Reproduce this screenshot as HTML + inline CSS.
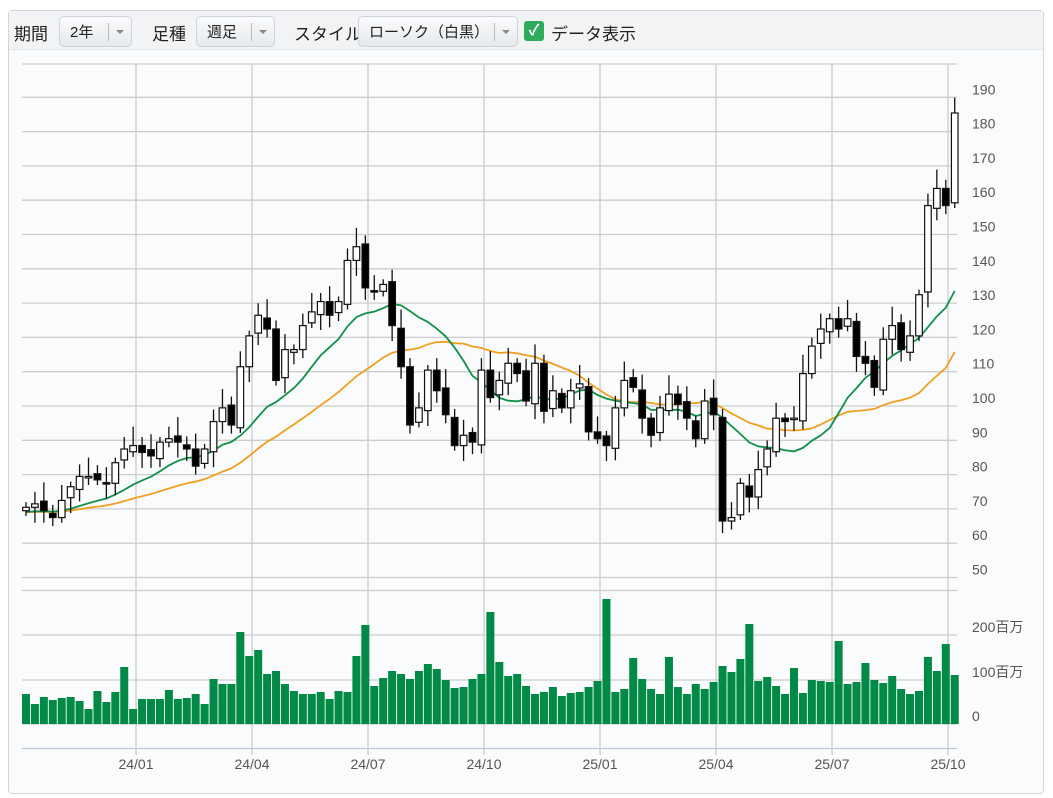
<!DOCTYPE html>
<html><head><meta charset="utf-8"><style>
body{margin:0;background:#fff;width:1053px;height:798px;overflow:hidden;font-family:"Liberation Sans","Noto Sans CJK JP",sans-serif}
.frame{position:absolute;left:8px;top:10px;width:1034px;height:782px;border:1px solid #d0d5dc;border-radius:4px;background:#fafbfc}
.bar{position:absolute;left:0;top:0;width:1034px;height:38px;background:#f1f3f5;border-bottom:1px solid #e3e6ea}
.t{position:absolute;top:9px;font-size:17px;color:#222}
.btn{position:absolute;top:5px;height:31px;border:1px solid #cfd3d8;border-radius:5px;background:linear-gradient(#fafbfc,#e6e9ec);font-size:15px;color:#222;line-height:31px;box-sizing:border-box;padding-left:10px}
.btn i{position:absolute;right:0;top:6px;width:22px;height:18px;border-left:1px solid #bbb}
.btn i:after{content:"";position:absolute;left:7px;top:7px;border:4px solid transparent;border-top:4px solid #888}
.chk{position:absolute;left:515px;top:10px;width:20px;height:20px;background:#2eaa5c;border-radius:3px;color:#fff;font-size:15px;text-align:center;line-height:20px;font-weight:bold}
</style></head><body>
<div class="frame"><div class="bar">
<span class="t" style="left:5px">期間</span>
<div class="btn" style="left:50px;width:73px">2年<i></i></div>
<span class="t" style="left:143px">足種</span>
<div class="btn" style="left:187px;width:79px">週足<i></i></div>
<span class="t" style="left:285px">スタイル</span>
<div class="btn" style="left:349px;width:160px">ローソク（白黒）<i></i></div>
<div class="chk">✓</div>
<span class="t" style="left:542px">データ表示</span>
</div></div>
<svg id="s" width="1053" height="798" style="position:absolute;left:0;top:0"></svg>
<script>
const C=[68,69,67,65,70,74,77,77,76,75,81,85,86,84,83,87,88,87,85,80,85,93,97,92,109,118,124,120,105,114,114,121,125,128,124,128,140,144,132,131,133,121,109,92,97,108,102,95,86,89,87,108,100,105,110,107,99,110,96,102,97,102,104,90,88,86,97,105,103,94,89,97,101,98,94,88,99,95,64,65,75,71,79,85,94,93,94,107,115,120,123,120,123,112,110,103,117,121,114,118,130,156,161,156,183];
const V=[30,20,27,24,26,27,23,15,33,22,32,57,15,25,25,25,34,25,26,30,20,45,40,40,92,68,74,50,53,40,33,30,30,32,25,33,32,68,99,38,46,53,50,45,53,60,55,44,36,37,45,50,112,62,48,50,38,30,32,37,28,31,32,37,43,125,32,35,66,45,35,30,67,37,30,40,35,42,58,52,65,100,43,47,38,30,56,31,44,43,42,83,40,42,61,44,41,48,35,30,33,67,53,80,49];
const y=v=>89+(190-v)*3.4286, X=i=>26+i*8.93;
let h='';
for(let k=0;k<=14;k++){const g=97.3+k*34.3;h+=`<line x1="22" x2="957" y1="${g}" y2="${g}" stroke="#ccc" stroke-width="1.3"/><text x="972" y="${g-3}" font-size="14" fill="#555">${190-k*10}</text>`;}
h+=`<line x1="22" x2="957" y1="64" y2="64" stroke="#ccc" stroke-width="1.3"/><line x1="22" x2="957" y1="590.5" y2="590.5" stroke="#ccc" stroke-width="1.3"/>`;
[[635,'200百万'],[680,'100百万'],[724,'0']].forEach(a=>{h+=`<line x1="22" x2="957" y1="${a[0]}" y2="${a[0]}" stroke="#ccc" stroke-width="1.3"/><text x="972" y="${a[0]-3}" font-size="14" fill="#555">${a[1]}</text>`});
h+=`<line x1="22" x2="957" y1="748.5" y2="748.5" stroke="#b8c8d8" stroke-width="1.3"/>`;
['24/01','24/04','24/07','24/10','25/01','25/04','25/07','25/10'].forEach((l,i)=>{const x=136+i*116;h+=`<line x1="${x}" x2="${x}" y1="64" y2="755" stroke="#ccc" stroke-width="1.3"/><text x="${x}" y="769" font-size="14" fill="#555" text-anchor="middle">${l}</text>`});
V.forEach((v,i)=>{if(i<C.length)h+=`<rect x="${X(i)-4}" y="${724-v}" width="8" height="${v}" fill="#008a45"/>`});
function ma(n,col){let p='';for(let i=0;i<C.length;i++){let s=0,c=0;for(let j=Math.max(0,i-n+1);j<=i;j++){s+=C[j];c++}let m=s/c;if(i<n){m=m*(c/n)+ (C[0]-1.5)*((n-c)/n);}p+=(i?'L':'M')+X(i).toFixed(1)+','+y(m).toFixed(1);}h+=`<path d="${p}" fill="none" stroke="${col}" stroke-width="1.8"/>`}
ma(26,'#f0a020');ma(13,'#11904a');
C.forEach((c,i)=>{const o=i?C[i-1]+(i%3-1)*0.8:67;const hi=Math.max(o,c)+1.5+(i*7%5),lo=Math.min(o,c)-1.5-(i*3%4);const x=X(i);
h+=`<line x1="${x}" x2="${x}" y1="${y(hi)}" y2="${y(lo)}" stroke="#111" stroke-width="1.3"/>`;
const t=y(Math.max(o,c)),b=y(Math.min(o,c));h+=`<rect x="${x-3.3}" y="${t}" width="6.6" height="${Math.max(b-t,1.5)}" fill="${c>=o?'#fff':'#000'}" stroke="#111" stroke-width="1.2"/>`});
document.getElementById('s').innerHTML=h;
</script>
</body></html>
